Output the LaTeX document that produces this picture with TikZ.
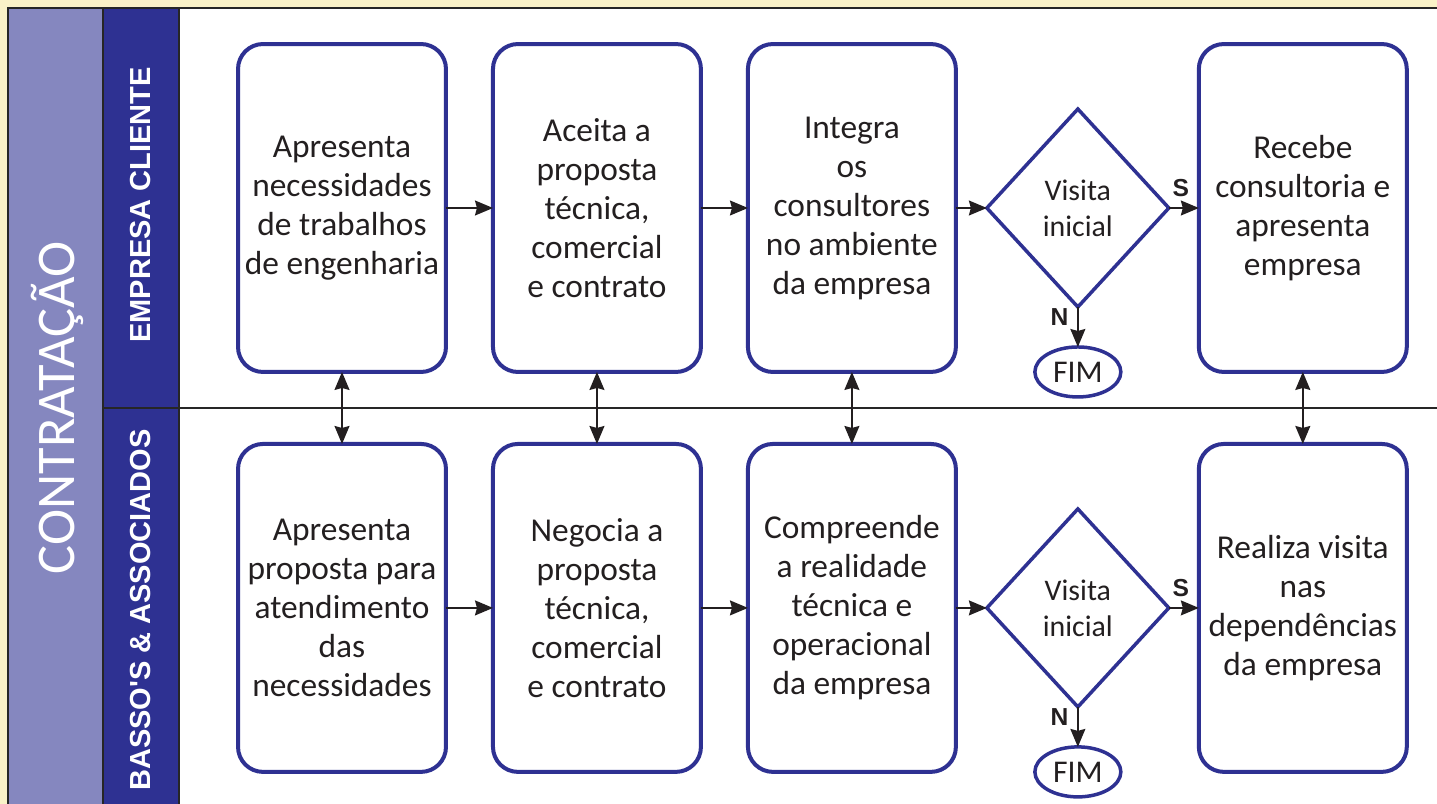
\documentclass[tikz,border=0pt]{standalone}
\usepackage{fontspec}
\setmainfont{Carlito}
\newfontfamily\lanefont{Liberation Sans}
\usetikzlibrary{positioning,arrows.meta,shapes.geometric}
\definecolor{lanedark}{RGB}{46,49,146}
\definecolor{lanelight}{RGB}{133,135,191}
\definecolor{pagebg}{RGB}{250,242,200}
\definecolor{inkgray}{RGB}{35,31,32}
\tikzset{
	>={Stealth[length=0.36cm,width=0.3cm,inset=0.04cm]},
	tarefa/.style={
		rectangle,
		rounded corners=0.5cm,
		draw=lanedark, line width=0.08cm,
		fill=white,
		outer sep=0pt,
		minimum width=4.16cm,
		minimum height=6.56cm,
		align=center,
		text=inkgray,
		font=\fontsize{19}{22.2}\selectfont},
	decisao/.style={
		diamond,
		draw=lanedark, line width=0.07cm,
		fill=white,
		outer sep=0pt,
		minimum width=3.64cm,
		minimum height=3.96cm,
		inner sep=0pt,
		align=center,
		text=inkgray,
		font=\fontsize{17}{20.5}\selectfont},
	fim/.style={
		ellipse,
		draw=lanedark, line width=0.07cm,
		fill=white,
		outer sep=0pt,
		minimum width=1.72cm,
		minimum height=1cm,
		inner sep=0pt,
		text=inkgray,
		font=\fontsize{18}{20}\selectfont},
	seta/.style={draw=inkgray, line width=0.03cm, ->},
	dupla/.style={draw=inkgray, line width=0.03cm, <->},
	raia/.style={rotate=90, text=white, font=\lanefont\bfseries\fontsize{16.5}{20}\selectfont},
	rotulo/.style={text=inkgray, inner sep=2pt, font=\lanefont\bfseries\fontsize{14}{16}\selectfont},
}
\begin{document}
\begin{tikzpicture}[x=0.02cm, y=-0.02cm, node distance=0.94cm]
	% fundo e raias
	\useasboundingbox (0,0) rectangle (1437,804);
	\fill[pagebg] (0,0) rectangle (1437,804);
	\fill[white] (179,8) rectangle (1450,820);
	\fill[lanelight] (8,8) rectangle (103,820);
	\fill[lanedark] (103,8) rectangle (179,820);
	\draw[black!85, line width=0.04cm] (8,820) -- (8,8) -- (1450,8);
	\draw[black!85, line width=0.03cm] (103,8) -- (103,820) (179,8) -- (179,820);
	\draw[black!85, line width=0.04cm] (103,408) -- (1450,408);
	\node[rotate=90, text=white, font=\fontsize{31}{34}\selectfont] (processo) at (57,408) {CONTRATAÇÃO};
	\node[raia] (cliente) at (141,205) {EMPRESA CLIENTE};
	\node[raia] (basso) at (141,610) {BASSO'S \& ASSOCIADOS};
	% empresa cliente
	\node[tarefa] (c1) at (342,208) {Apresenta\\necessidades\\de trabalhos\\de engenharia};
	\node[tarefa, right=of c1] (c2) {Aceita a\\proposta\\técnica,\\comercial\\e contrato};
	\node[tarefa, right=of c2] (c3) {Integra\\os\\consultores\\no ambiente\\da empresa};
	\node[decisao, right=0.62cm of c3] (cv) {Visita\\inicial};
	\node[tarefa, right=0.6cm of cv] (c4) {Recebe\\consultoria e\\apresenta\\empresa};
	\node[fim, below=0.8cm of cv] (cfim) {FIM};
	% basso's & associados
	\node[tarefa, below=1.44cm of c1] (b1) {Apresenta\\proposta para\\atendimento\\das\\necessidades};
	\node[tarefa, right=of b1] (b2) {Negocia a\\proposta\\técnica,\\comercial\\e contrato};
	\node[tarefa, right=of b2] (b3) {Compreende\\a realidade\\técnica e\\operacional\\da empresa};
	\node[decisao, right=0.62cm of b3] (bv) {Visita\\inicial};
	\node[tarefa, right=0.6cm of bv] (b4) {Realiza visita\\nas\\dependências\\da empresa};
	\node[fim, below=0.8cm of bv] (bfim) {FIM};
	% fluxo
	\draw[seta] (c1) -- (c2);
	\draw[seta] (c2) -- (c3);
	\draw[seta] (c3) -- (cv);
	\draw[seta] (cv) -- node[rotulo, above=4pt, pos=0.4] {S} (c4);
	\draw[seta] (cv) -- node[rotulo, left=3pt, pos=0.25] {N} (cfim);
	\draw[seta] (b1) -- (b2);
	\draw[seta] (b2) -- (b3);
	\draw[seta] (b3) -- (bv);
	\draw[seta] (bv) -- node[rotulo, above=4pt, pos=0.4] {S} (b4);
	\draw[seta] (bv) -- node[rotulo, left=3pt, pos=0.25] {N} (bfim);
	\foreach \i in {1,2,3,4}
		\draw[dupla] (c\i) -- (b\i);
\end{tikzpicture}
\end{document}
